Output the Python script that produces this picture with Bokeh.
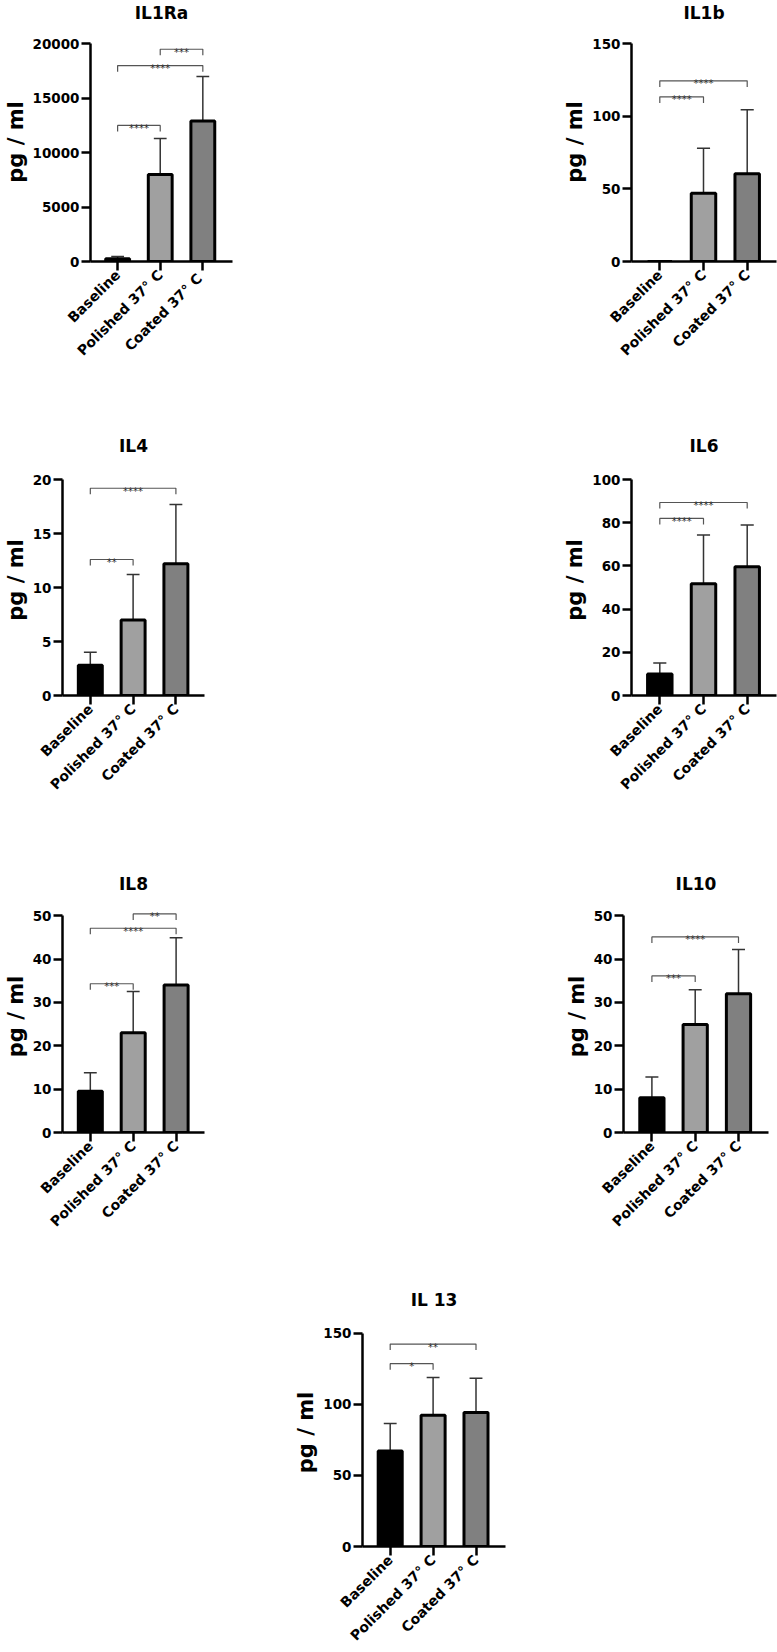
import math
from bokeh.plotting import figure
from bokeh.layouts import column, row
from bokeh.models import FixedTicker, ColumnDataSource, Range1d
from bokeh.embed import file_html
from bokeh.resources import INLINE
from bokeh.core.properties import value

# ---------------- data ----------------
categories = ["Baseline", "Polished 37° C", "Coated 37° C"]
categories_il1ra = ["Baseline", "Polished 37° C", "Coated  37° C"]
bar_colors = ["#000000", "#a0a0a0", "#808080"]
positions = [1, 2, 3]

il1ra_mean = [250, 8000, 12900]
il1ra_upper = [450, 11300, 17000]
il1ra_ticks = [0, 5000, 10000, 15000, 20000]
il1ra_sig = [(1, 2, 12500, "****"), (1, 3, 18000, "****"), (2, 3, 19500, "***")]

il1b_mean = [0, 47, 60.5]
il1b_upper = [0, 78, 104.5]
il1b_ticks = [0, 50, 100, 150]
il1b_sig = [(1, 2, 113.5, "****"), (1, 3, 124.5, "****")]

il4_mean = [2.8, 7.0, 12.2]
il4_upper = [4.0, 11.2, 17.7]
il4_ticks = [0, 5, 10, 15, 20]
il4_sig = [(1, 2, 12.6, "**"), (1, 3, 19.2, "****")]

il6_mean = [10, 51.8, 59.6]
il6_upper = [15, 74.3, 79]
il6_ticks = [0, 20, 40, 60, 80, 100]
il6_sig = [(1, 2, 82, "****"), (1, 3, 89.4, "****")]

il8_mean = [9.5, 23, 34]
il8_upper = [13.8, 32.5, 44.9]
il8_ticks = [0, 10, 20, 30, 40, 50]
il8_sig = [(1, 2, 34.3, "***"), (1, 3, 47.1, "****"), (2, 3, 50.4, "**")]

il10_mean = [8, 24.9, 32]
il10_upper = [12.8, 32.9, 42.2]
il10_ticks = [0, 10, 20, 30, 40, 50]
il10_sig = [(1, 2, 36.1, "***"), (1, 3, 45.1, "****")]

il13_mean = [67.2, 92.4, 94.3]
il13_upper = [86.6, 118.9, 118.4]
il13_ticks = [0, 50, 100, 150]
il13_sig = [(1, 2, 128.7, "*"), (1, 3, 142.5, "**")]

# ---------------- style ----------------
FONT = "DejaVu Sans"
BAR_W = 0.56
CAP = 0.15


def geo(fig_left, fig_w, row_top, row_h, axis_ref, xend_ref, top_ref, zero_ref, first_ref, spacing, pad):
    bl = round(axis_ref - fig_left)
    fw = round(xend_ref - axis_ref)
    S = zero_ref - top_ref
    ftop = top_ref - pad * S
    bt = round(ftop - row_top)
    fh = round(zero_ref - row_top) - bt
    return dict(fig_w=fig_w, fig_h=row_h, bl=bl, bt=bt, fw=fw, fh=fh,
                first=first_ref - axis_ref, spacing=spacing, pad=pad)


def panel(title, labels, means, uppers, ticks, sigs, g, title_standoff):
    ymax = ticks[-1]
    pad = g["pad"]
    x0 = positions[0] - g["first"] / g["spacing"]
    x1 = x0 + g["fw"] / g["spacing"]
    p = figure(width=g["fig_w"], height=g["fig_h"],
               x_range=Range1d(x0, x1), y_range=Range1d(0, ymax * (1 + pad)),
               output_backend="svg", toolbar_location=None,
               min_border_left=g["bl"], min_border_top=g["bt"],
               min_border_right=g["fig_w"] - g["bl"] - g["fw"],
               min_border_bottom=g["fig_h"] - g["bt"] - g["fh"],
               title=title)
    p.title.align = "center"
    p.title.text_font = FONT
    p.title.text_font_size = "17px"
    p.title.text_font_style = "bold"
    p.title.text_color = "black"
    p.title.standoff = title_standoff
    p.outline_line_color = None
    p.xgrid.visible = False
    p.ygrid.visible = False

    src = ColumnDataSource(dict(x=positions, top=means, upper=uppers, color=bar_colors,
                                cl=[x - CAP for x in positions], cr=[x + CAP for x in positions]))
    p.segment(x0="x", y0="top", x1="x", y1="upper", source=src, line_color="#333333", line_width=1.5)
    p.segment(x0="cl", y0="upper", x1="cr", y1="upper", source=src, line_color="#333333", line_width=1.5)
    p.vbar(x="x", top="top", bottom=0, width=BAR_W, source=src, fill_color="color",
           line_color="black", line_width=3)

    drop = 0.028 * ymax
    bx, by, tx, ty, tt = [], [], [], [], []
    for a, b, yv, t in sigs:
        bx.append([a, a, b, b])
        by.append([yv - drop, yv, yv, yv - drop])
        tx.append((a + b) / 2)
        ty.append(yv)
        tt.append(t)
    p.multi_line(xs=bx, ys=by, line_color="#555555", line_width=1.2)
    p.text(x=tx, y=ty, text=tt, text_align="center", text_baseline="alphabetic",
           y_offset=3, text_font=value(FONT), text_font_size="10px", text_color="#333333")

    xa = p.xaxis[0]
    xa.ticker = FixedTicker(ticks=positions)
    xa.major_label_overrides = {pos: lab for pos, lab in zip(positions, labels)}
    xa.major_label_orientation = math.pi / 4
    xa.major_label_text_font = FONT
    xa.major_label_text_font_size = "14px"
    xa.major_label_text_font_style = "bold"
    xa.major_label_text_color = "black"
    xa.major_label_standoff = 2
    xa.major_tick_out = 9
    xa.major_tick_in = 0
    xa.minor_tick_line_color = None
    xa.major_tick_line_width = 2.5
    xa.axis_line_width = 2.5

    ya = p.yaxis[0]
    ya.ticker = FixedTicker(ticks=ticks, minor_ticks=[])
    ya.bounds = (0, ymax)
    ya.axis_label = "pg / ml"
    ya.axis_label_text_font = FONT
    ya.axis_label_text_font_size = "21px"
    ya.axis_label_text_font_style = "bold"
    ya.axis_label_text_color = "black"
    ya.axis_label_standoff = 2
    ya.major_label_text_font = FONT
    ya.major_label_text_font_size = "13.5px"
    ya.major_label_text_font_style = "bold"
    ya.major_label_text_color = "black"
    ya.major_label_standoff = 2
    ya.major_tick_out = 9
    ya.major_tick_in = 0
    ya.minor_tick_line_color = None
    ya.major_tick_line_width = 2.5
    ya.axis_line_width = 2.5
    return p


g1 = geo(0, 551, 0, 421, 87.3, 232, 43.3, 260.7, 115, 43.5, 0.098)
g2 = geo(551, 226, 0, 421, 631, 776, 43.3, 260.7, 659.3, 43.7, 0.098)
g3 = geo(0, 556, 421, 443, 59.3, 204, 477.7, 695.3, 87.7, 43.7, 0.07)
g4 = geo(556, 221, 421, 443, 631, 776, 479, 695.3, 659.3, 43.7, 0.07)
g5 = geo(0, 553, 864, 414, 59.3, 204, 915, 1132, 87.7, 43.8, 0.07)
g6 = geo(553, 224, 864, 414, 623.3, 768.3, 915.3, 1132.3, 651.7, 43.3, 0.07)
g7 = geo(0, 777, 1278, 374, 362.3, 505, 1332.7, 1546.3, 390, 42.9, 0.07)

p1 = panel("IL1Ra", categories_il1ra, il1ra_mean, il1ra_upper, il1ra_ticks, il1ra_sig, g1, 0)
p2 = panel("IL1b", categories, il1b_mean, il1b_upper, il1b_ticks, il1b_sig, g2, 0)
p3 = panel("IL4", categories, il4_mean, il4_upper, il4_ticks, il4_sig, g3, 18)
p4 = panel("IL6", categories, il6_mean, il6_upper, il6_ticks, il6_sig, g4, 18)
p5 = panel("IL8", categories, il8_mean, il8_upper, il8_ticks, il8_sig, g5, 13)
p6 = panel("IL10", categories, il10_mean, il10_upper, il10_ticks, il10_sig, g6, 13)
p7 = panel("IL 13", categories, il13_mean, il13_upper, il13_ticks, il13_sig, g7, 17)

layout = column(row(p1, p2), row(p3, p4), row(p5, p6), row(p7))

with open("out.html", "w") as f:
    f.write(file_html(layout, INLINE))
